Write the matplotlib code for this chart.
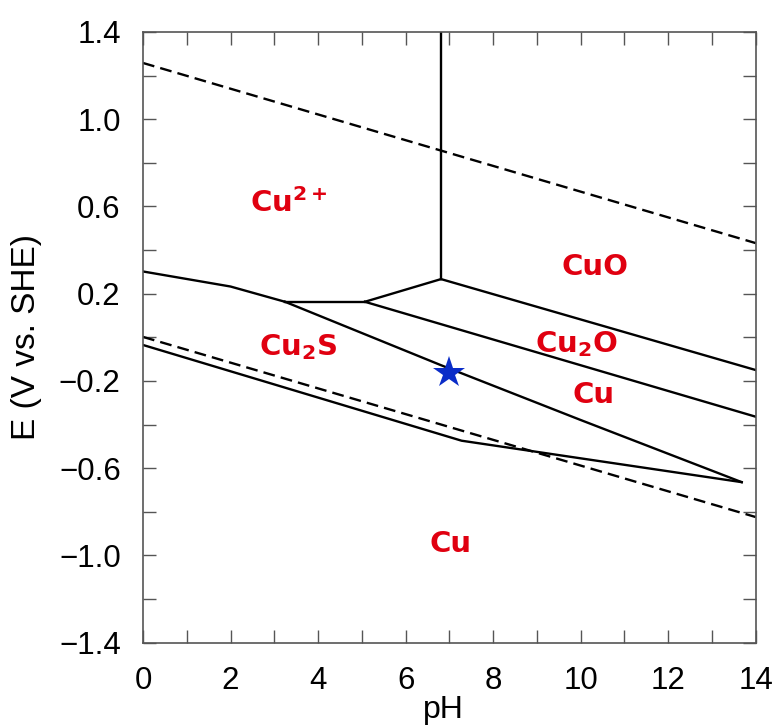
import matplotlib
matplotlib.use("Agg")
import matplotlib.pyplot as plt
from matplotlib.ticker import MultipleLocator, FixedLocator, FuncFormatter

plt.rcParams['font.family'] = ['Liberation Sans', 'DejaVu Sans']
plt.rcParams['mathtext.fontset'] = 'custom'
plt.rcParams['mathtext.rm'] = 'DejaVu Sans:bold'
plt.rcParams['mathtext.it'] = 'DejaVu Sans:bold'
plt.rcParams['mathtext.bf'] = 'DejaVu Sans:bold'

# Water stability limits (dashed)
o2_ph = [0.0, 14.0]
o2_e = [1.258, 0.432]
h2_ph = [0.0, 14.0]
h2_e = [0.002, -0.824]

# Phase boundaries (solid)
cu2_cuo_ph = [6.81, 6.81]
cu2_cuo_e = [1.40, 0.267]
cuo_cu2o_ph = [6.81, 14.0]
cuo_cu2o_e = [0.267, -0.150]
cu2_cu2o_ph = [5.07, 6.81]
cu2_cu2o_e = [0.163, 0.267]
cu2_cu2s_ph = [0.0, 2.0, 3.245]
cu2_cu2s_e = [0.302, 0.233, 0.163]
cu2_cu_ph = [3.245, 5.07]
cu2_cu_e = [0.163, 0.163]
cu2o_cu_ph = [5.07, 14.0]
cu2o_cu_e = [0.163, -0.364]
cu2s_cu_ph = [3.245, 6.80, 10.0, 13.68]
cu2s_cu_e = [0.163, -0.127, -0.379, -0.664]
cu2s_lower_ph = [0.0, 7.28, 13.68]
cu2s_lower_e = [-0.035, -0.474, -0.664]

# Measured condition
star_ph = [7.0]
star_e = [-0.163]

# Region labels: (text, pH, E)
region_labels = [
    (r"Cu$^{2+}$", 2.45, 0.576),
    ("CuO", 9.56, 0.286),
    (r"Cu$_2$O", 8.96, -0.066),
    ("Cu", 9.82, -0.300),
    (r"Cu$_2$S", 2.64, -0.081),
    ("Cu", 6.54, -0.983),
]

x_major = [0, 2, 4, 6, 8, 10, 12, 14]
y_major = [-1.4, -1.0, -0.6, -0.2, 0.2, 0.6, 1.0, 1.4]

fig = plt.figure(figsize=(7.77, 7.27), dpi=100)
ax = fig.add_axes([0.184, 0.116, 0.7886, 0.840])

lw = 1.7
dash = (0, (5, 2.6))
ax.plot(o2_ph, o2_e, color='black', lw=lw, linestyle=dash)
ax.plot(h2_ph, h2_e, color='black', lw=lw, linestyle=dash)

for xs, ys in [(cu2_cuo_ph, cu2_cuo_e), (cuo_cu2o_ph, cuo_cu2o_e),
               (cu2_cu2o_ph, cu2_cu2o_e), (cu2_cu2s_ph, cu2_cu2s_e),
               (cu2_cu_ph, cu2_cu_e), (cu2o_cu_ph, cu2o_cu_e),
               (cu2s_cu_ph, cu2s_cu_e), (cu2s_lower_ph, cu2s_lower_e)]:
    ax.plot(xs, ys, color='black', lw=lw, solid_joinstyle='miter')

ax.plot(star_ph, star_e, marker='*', markersize=24, color='#0a2cc8',
        markeredgewidth=0, linestyle='none', zorder=5)

for txt, px, pe in region_labels:
    ax.text(px, pe, txt, color='#e00010', fontsize=21, ha='left',
            va='baseline', family='DejaVu Sans', fontweight='bold')

ax.set_xlim(0, 14)
ax.set_ylim(-1.4, 1.4)

ax.xaxis.set_major_locator(FixedLocator(x_major))
ax.xaxis.set_minor_locator(MultipleLocator(1))
ax.yaxis.set_major_locator(FixedLocator(y_major))
ax.yaxis.set_minor_locator(MultipleLocator(0.2))
ax.yaxis.set_major_formatter(FuncFormatter(lambda v, p: f"{v:.1f}".replace('-', '\u2212')))

ax.tick_params(which='both', direction='in', length=9.5, width=1.0,
               color='#555555', top=True, right=True, labelsize=22.5)
ax.tick_params(axis='x', which='both', pad=17)
ax.tick_params(axis='y', which='both', pad=16)
for s in ax.spines.values():
    s.set_color('#555555')
    s.set_linewidth(1.2)

ax.set_xlabel("pH", fontsize=23)
ax.set_ylabel("E (V vs. SHE)", fontsize=24)
ax.xaxis.set_label_coords(0.49, -0.085)
ax.yaxis.set_label_coords(-0.165, 0.5)

fig.savefig("out.png", dpi=100, facecolor='white')
